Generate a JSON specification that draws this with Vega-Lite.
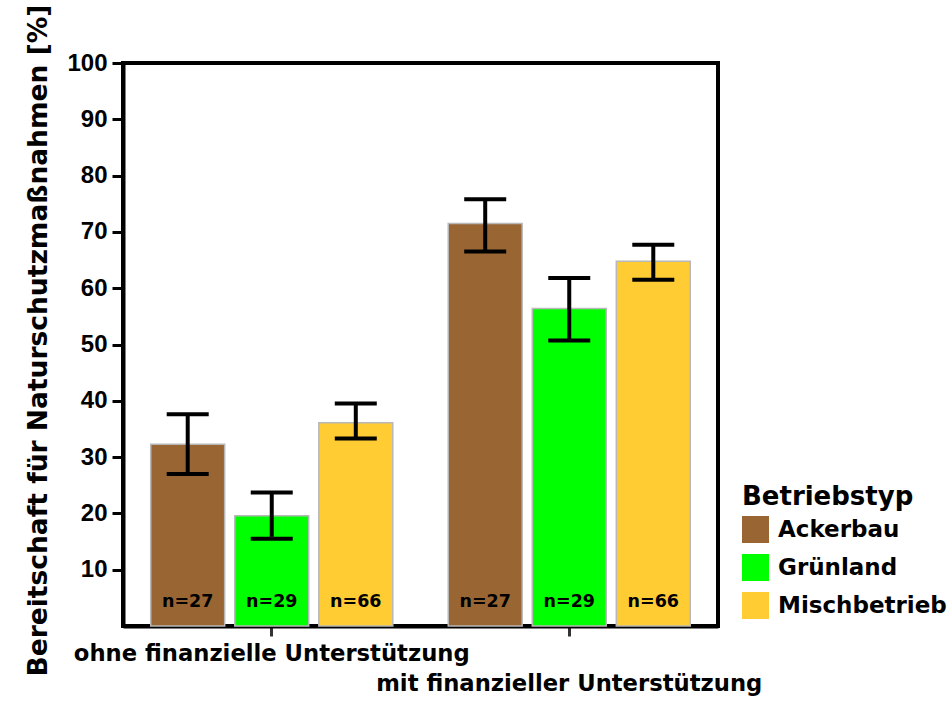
{
  "$schema": "https://vega.github.io/schema/vega-lite/v6.json",
  "width": 595,
  "height": 563,
  "autosize": "none",
  "padding": {"left": 123, "top": 63, "right": 229, "bottom": 76},
  "background": "white",
  "config": {
    "view": {"stroke": "black", "strokeWidth": 4},
    "font": "DejaVu Sans"
  },
  "data": {
    "values": [
      {"Gruppe": "ohne finanzielle Unterstützung", "Betriebstyp": "Ackerbau", "wert": 32.3, "lo": 27.0, "hi": 37.6, "n": "n=27"},
      {"Gruppe": "ohne finanzielle Unterstützung", "Betriebstyp": "Grünland", "wert": 19.6, "lo": 15.5, "hi": 23.7, "n": "n=29"},
      {"Gruppe": "ohne finanzielle Unterstützung", "Betriebstyp": "Mischbetrieb", "wert": 36.1, "lo": 33.3, "hi": 39.5, "n": "n=66"},
      {"Gruppe": "mit finanzieller Unterstützung", "Betriebstyp": "Ackerbau", "wert": 71.5, "lo": 66.5, "hi": 75.8, "n": "n=27"},
      {"Gruppe": "mit finanzieller Unterstützung", "Betriebstyp": "Grünland", "wert": 56.4, "lo": 50.7, "hi": 61.8, "n": "n=29"},
      {"Gruppe": "mit finanzieller Unterstützung", "Betriebstyp": "Mischbetrieb", "wert": 64.8, "lo": 61.5, "hi": 67.7, "n": "n=66"}
    ]
  },
  "encoding": {
    "x": {
      "field": "Gruppe",
      "type": "nominal",
      "sort": ["ohne finanzielle Unterstützung", "mit finanzieller Unterstützung"],
      "scale": {"paddingInner": 0, "paddingOuter": 0},
      "axis": {
        "title": null,
        "labelAngle": 0,
        "domainWidth": 4,
        "domainColor": "black",
        "tickColor": "#333333",
        "tickWidth": 3,
        "tickSize": 10,
        "labelFont": "DejaVu Sans",
        "labelFontSize": 22.7,
        "labelFontWeight": "bold",
        "labelColor": "black",
        "labelPadding": 6,
        "labelLimit": 0,
        "labelOverlap": false,
        "labelBound": false,
        "labelLineHeight": 30,
        "labelExpr": "datum.value == 'mit finanzieller Unterstützung' ? ['', datum.value] : datum.value"
      }
    },
    "xOffset": {
      "field": "Betriebstyp",
      "type": "nominal",
      "sort": ["Ackerbau", "Grünland", "Mischbetrieb"],
      "scale": {"paddingInner": 0.12, "paddingOuter": 0.33}
    }
  },
  "layer": [
    {
      "mark": {"type": "bar", "stroke": "#b8b8b8", "strokeWidth": 1.5},
      "encoding": {
        "y": {
          "field": "wert",
          "type": "quantitative",
          "scale": {"domain": [0, 100], "nice": false},
          "axis": {
            "title": "Bereitschaft für Naturschutzmaßnahmen [%]",
            "values": [10, 20, 30, 40, 50, 60, 70, 80, 90, 100],
            "grid": false,
            "domainWidth": 4,
            "domainColor": "black",
            "tickColor": "black",
            "tickWidth": 3,
            "tickSize": 11,
            "labelFont": "Liberation Sans",
            "labelFontSize": 24,
            "labelFontWeight": "bold",
            "labelColor": "black",
            "labelPadding": 5,
            "titleFont": "DejaVu Sans",
            "titleFontSize": 26.5,
            "titleFontWeight": "bold",
            "titleColor": "black",
            "titleAngle": -90,
            "titleX": -85,
            "titleY": 277,
            "titleAlign": "center",
            "titleBaseline": "middle"
          }
        },
        "color": {
          "field": "Betriebstyp",
          "type": "nominal",
          "scale": {"domain": ["Ackerbau", "Grünland", "Mischbetrieb"], "range": ["#996633", "#00ff00", "#ffcc33"]},
          "legend": {
            "title": "Betriebstyp",
            "orient": "none",
            "legendX": 619,
            "legendY": 421,
            "padding": 0,
            "titleFont": "DejaVu Sans",
            "titleFontSize": 26,
            "titleFontWeight": "bold",
            "titleColor": "black",
            "titlePadding": 6,
            "labelFont": "DejaVu Sans",
            "labelFontSize": 23,
            "labelFontWeight": "bold",
            "labelColor": "black",
            "labelOffset": 9,
            "labelLimit": 0,
            "symbolType": "square",
            "symbolSize": 729,
            "symbolStrokeWidth": 0,
            "symbolOpacity": 1,
            "rowPadding": 11
          }
        }
      }
    },
    {
      "mark": {"type": "rule", "strokeWidth": 4, "color": "black"},
      "encoding": {
        "y": {"field": "lo", "type": "quantitative", "title": "Bereitschaft für Naturschutzmaßnahmen [%]"},
        "y2": {"field": "hi"}
      }
    },
    {
      "mark": {"type": "tick", "size": 42, "thickness": 4, "color": "black", "opacity": 1},
      "encoding": {
        "y": {"field": "lo", "type": "quantitative", "title": "Bereitschaft für Naturschutzmaßnahmen [%]"}
      }
    },
    {
      "mark": {"type": "tick", "size": 42, "thickness": 4, "color": "black", "opacity": 1},
      "encoding": {
        "y": {"field": "hi", "type": "quantitative", "title": "Bereitschaft für Naturschutzmaßnahmen [%]"}
      }
    },
    {
      "mark": {"type": "text", "fontSize": 17.5, "fontWeight": "bold", "font": "DejaVu Sans", "color": "black", "baseline": "middle"},
      "encoding": {
        "y": {"datum": 4.3, "type": "quantitative"},
        "text": {"field": "n"}
      }
    }
  ]
}
